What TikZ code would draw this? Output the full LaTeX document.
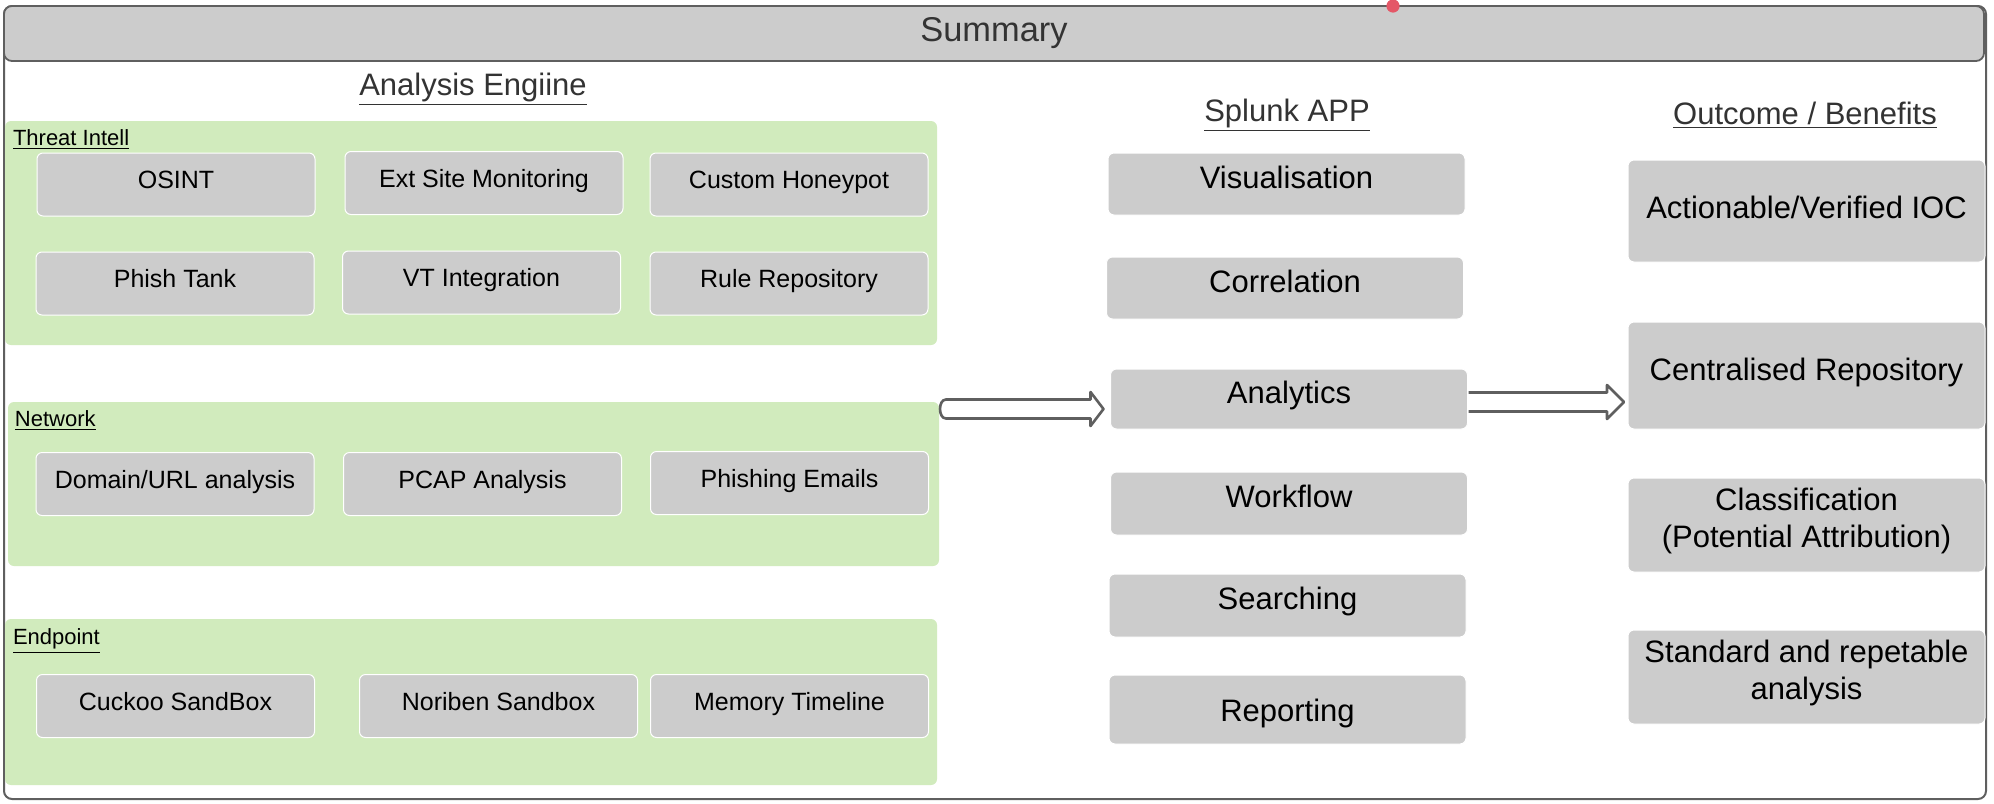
\documentclass[tikz,border=0pt]{standalone}
\usepackage{fontspec}
\setmainfont{Liberation Sans}
\usetikzlibrary{calc}
\definecolor{boxgray}{RGB}{204,204,204}
\definecolor{panelgreen}{RGB}{209,235,189}
\definecolor{framegray}{RGB}{95,95,95}
\definecolor{titlegray}{RGB}{51,51,51}
\definecolor{dotred}{RGB}{228,87,103}
\begin{document}
\begin{tikzpicture}[x=0.5pt,y=-0.5pt,
  every node/.style={inner sep=0pt,outer sep=0pt},
  frame/.style={draw=framegray,line width=1pt,fill=white,rounded corners=4pt},
  sumbar/.style={draw=framegray,line width=0.9pt,fill=boxgray,rounded corners=4pt,
    font=\fontsize{17.2}{20}\selectfont,text=titlegray,text height=0.75em,text depth=0pt},
  panel/.style={fill=panelgreen,rounded corners=3pt},
  sect/.style={anchor=west,font=\fontsize{11}{13}\selectfont,text=black},
  coltitle/.style={font=\fontsize{15.5}{18}\selectfont,text=titlegray},
  gbox/.style={fill=boxgray,draw=white,line width=0.5pt,rounded corners=3pt,
    minimum width=139pt,minimum height=31.5pt,font=\fontsize{12.5}{15}\selectfont,
    text height=0.75em,text depth=0.35em},
  sbox/.style={fill=boxgray,draw=white,line width=0.5pt,rounded corners=3pt,
    minimum width=178.5pt,font=\fontsize{15.5}{18}\selectfont,
    text height=0.75em,text depth=0.35em},
  obox/.style={fill=boxgray,draw=white,line width=0.5pt,rounded corners=3pt,
    minimum width=178.5pt,font=\fontsize{15.5}{18.5}\selectfont,align=center},
  otext/.style={font=\fontsize{15.5}{18.5}\selectfont,align=center},
  fatarrow/.style={draw=framegray,line width=1.3pt,fill=white,line join=round}
]
\useasboundingbox (0,0) rectangle (1994,804);

% outer frame and summary bar
\node[frame,minimum width=991pt,minimum height=396.5pt] (frame) at (995,402.5) {};
\node[sumbar,minimum width=990pt,minimum height=27.5pt] (summary) at (994,33.5) {Summary};
\fill[dotred] (1393,6) circle (3.3pt);

% column titles
\node[coltitle] (aetitle) at (473,89) {\underline{Analysis Engiine}};
\node[coltitle] (sptitle) at (1287,115) {\underline{Splunk APP}};
\node[coltitle] (obtitle) at (1805,115) {\underline{Outcome / Benefits}};

% green panels
\node[panel,minimum width=466pt,minimum height=112pt] (ti) at (471,233) {};
\node[panel,minimum width=465.5pt,minimum height=82pt] (net) at (473.5,484) {};
\node[panel,minimum width=466pt,minimum height=83pt] (ep) at (471,702) {};

\node[sect] (til) at (13,140) {\underline{Threat Intell}};
\node[sect] (netl) at (15,421) {\underline{Network}};
\node[sect] (epl) at (13,641) {\underline{Endpoint}};

% threat intel boxes
\node[gbox] (osint) at (176,184.5) {OSINT};
\node[gbox] (ext) at (484,183) {Ext Site Monitoring};
\node[gbox] (honey) at (789,184.5) {Custom Honeypot};
\node[gbox] (phish) at (175,283.5) {Phish Tank};
\node[gbox] (vt) at (481.5,282.5) {VT Integration};
\node[gbox] (rule) at (789,283.5) {Rule Repository};

% network boxes
\node[gbox] (dom) at (175,484) {Domain/URL analysis};
\node[gbox] (pcap) at (482.5,484) {PCAP Analysis};
\node[gbox] (pem) at (789.5,483) {Phishing Emails};

% endpoint boxes
\node[gbox] (cuckoo) at (175.5,706) {Cuckoo SandBox};
\node[gbox] (noriben) at (498.5,706) {Noriben Sandbox};
\node[gbox] (mem) at (789.5,706) {Memory Timeline};

% splunk app boxes
\node[sbox,minimum height=31pt] (vis) at (1286.5,184) {Visualisation};
\node[sbox,minimum height=31pt] (corr) at (1285,288) {Correlation};
\node[sbox,minimum height=30pt] (analytics) at (1289,399) {Analytics};
\node[sbox,minimum height=31.5pt] (work) at (1289,503.5) {Workflow};
\node[sbox,minimum height=31.5pt] (search) at (1287.5,605.5) {Searching};
\node[sbox,minimum height=34.5pt,text height=12.4pt,text depth=0.4pt] (report) at (1287.5,709.5) {Reporting};

% outcome boxes
\node[obox,minimum height=51pt,text height=0.75em,text depth=0.5pt] (ioc) at (1806.5,211) {Actionable/Verified IOC};
\node[obox,minimum height=53.5pt,text height=0.75em,text depth=3pt] (repo) at (1806.5,375.5) {Centralised Repository};
\node[obox,minimum height=47pt] (class) at (1806.5,525) {};
\node[otext,yshift=2pt] (classt) at (class.center) {Classification\\(Potential Attribution)};
\node[obox,minimum height=47pt] (std) at (1806.5,677) {};
\node[otext,yshift=2.2pt] (stdt) at (std.center) {Standard and repetable\\analysis};

% arrows
\coordinate (la) at (940,409);
\draw[fatarrow] let \p1=(la), \p2=(analytics.west |- la) in
  (\x1+3pt,\y1+4.75pt) -- (\x2-10pt,\y1+4.75pt) -- (\x2-10pt,\y1+8.5pt) -- (\x2-3.5pt,\y1)
  -- (\x2-10pt,\y1-8.5pt) -- (\x2-10pt,\y1-4.75pt) -- (\x1+3pt,\y1-4.75pt)
  .. controls (\x1-1pt,\y1-4.75pt) and (\x1-1pt,\y1+4.75pt) .. cycle;
\coordinate (ra) at (1469,402);
\draw[fatarrow] let \p1=(analytics.east |- ra), \p2=(repo.west |- ra) in
  (\x1+0.5pt,\y1+4.75pt) -- (\x2-10.5pt,\y1+4.75pt) -- (\x2-10.5pt,\y1+8.5pt) -- (\x2-2pt,\y1)
  -- (\x2-10.5pt,\y1-8.5pt) -- (\x2-10.5pt,\y1-4.75pt) -- (\x1+0.5pt,\y1-4.75pt);
\end{tikzpicture}
\end{document}
